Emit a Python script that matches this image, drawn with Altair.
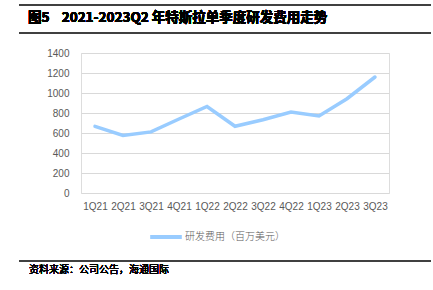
import altair as alt
import pandas as pd

quarters = ["1Q21", "2Q21", "3Q21", "4Q21", "1Q22", "2Q22", "3Q22", "4Q22", "1Q23", "2Q23", "3Q23"]
rd_expense = [666, 576, 611, 740, 865, 667, 733, 810, 771, 943, 1160]
series_name = "研发费用（百万美元）"
title_text = "图5\u00a0\u00a0\u00a0\u00a02021-2023Q2 年特斯拉单季度研发费用走势"
source_text = "资料来源：公司公告，海通国际"
y_ticks = [0, 200, 400, 600, 800, 1000, 1200, 1400]

df = pd.DataFrame({"q": quarters, "v": rd_expense, "s": [series_name] * len(quarters)})

CJK = "Noto Sans CJK SC"

line = alt.Chart(df).mark_line(strokeWidth=3.5, strokeCap="round", strokeJoin="miter").encode(
    x=alt.X("q:N", sort=quarters, title=None,
            scale=alt.Scale(paddingInner=0, paddingOuter=0.5),
            axis=alt.Axis(labelAngle=0, labelFontSize=10, labelFont="Liberation Sans",
                          labelColor="#595959", domain=False, ticks=False, labelPadding=8,
                          grid=False)),
    y=alt.Y("v:Q", title=None, scale=alt.Scale(domain=[0, 1400], nice=False),
            axis=alt.Axis(values=y_ticks, format="d", labelFontSize=10, labelFont="Liberation Sans",
                          labelColor="#595959", domain=False, ticks=False, labelPadding=12,
                          gridColor="#D9D9D9", gridWidth=1)),
    color=alt.Color("s:N", scale=alt.Scale(range=["#99CCFF"]), title=None,
                    legend=alt.Legend(orient="none", legendX=67, legendY=166,
                                      symbolType="stroke", symbolStrokeWidth=4,
                                      symbolSize=1000, labelFont=CJK, labelFontSize=10,
                                      labelFontWeight=300,
                                      labelColor="#595959", labelOffset=1)),
)

top_rule = alt.Chart(df).mark_rule(color="#404040", strokeWidth=1.5).encode(
    x=alt.value(-62), x2=alt.value(350), y=alt.value(-48))
mid_rule = alt.Chart(df).mark_rule(color="#404040", strokeWidth=1.2).encode(
    x=alt.value(-62), x2=alt.value(350), y=alt.value(-20))
foot_rule = alt.Chart(df).mark_rule(color="#404040", strokeWidth=1.2).encode(
    x=alt.value(-62), x2=alt.value(350), y=alt.value(208))

title = alt.Chart(df).mark_text(align="left", baseline="middle", font=CJK, fontSize=13.5,
                                fontWeight="bold", color="#000000").encode(
    x=alt.value(-53), y=alt.value(-35), text=alt.datum(title_text))
source = alt.Chart(df).mark_text(align="left", baseline="middle", font=CJK, fontSize=10,
                                 fontWeight=300, color="#000000").encode(
    x=alt.value(-52), y=alt.value(217), text=alt.datum(source_text))

chart = alt.layer(line, top_rule, mid_rule, foot_rule, title, source).properties(
    width=308, height=140,
    padding={"left": 81, "top": 53, "right": 44, "bottom": 97},
    autosize=alt.AutoSizeParams(type="none"),
).configure_view(stroke=None).configure(background="white")

chart.save("out.html", embed_options={"renderer": "svg", "actions": False})
